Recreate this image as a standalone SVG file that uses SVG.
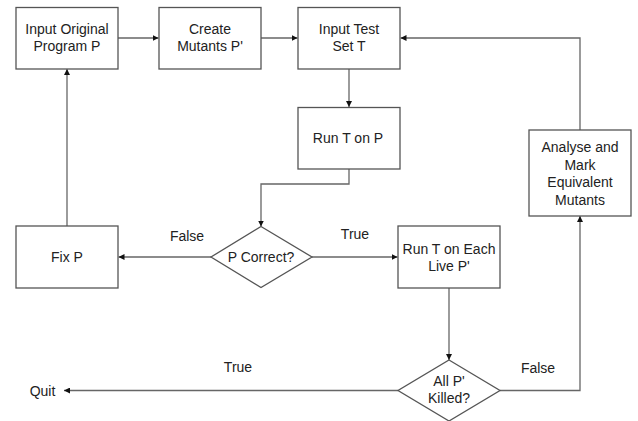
<svg xmlns="http://www.w3.org/2000/svg" width="638" height="421" viewBox="0 0 638 421">
<style>
.box{fill:#fff;stroke:#555;stroke-width:1.3}
.ln{fill:none;stroke:#666;stroke-width:1.3}
text{font-family:"Liberation Sans",Arial,sans-serif;font-size:14px;fill:#222;text-anchor:middle}
</style>
<defs>
<marker id="ah" viewBox="0 0 10 10" refX="10" refY="5" markerWidth="6" markerHeight="6" markerUnits="userSpaceOnUse" orient="auto">
<path d="M0,0 L10,5 L0,10 z" fill="#111"/>
</marker>
</defs>
<rect width="638" height="421" fill="#fff"/>
<g id="connectors">
<path class="ln" marker-end="url(#ah)" d="M118,38 H158.5"/>
<path class="ln" marker-end="url(#ah)" d="M261,38 H297.5"/>
<path class="ln" marker-end="url(#ah)" d="M349,69 V107"/>
<path class="ln" marker-end="url(#ah)" d="M349,169 V184 H261 V226.5"/>
<path class="ln" marker-end="url(#ah)" d="M211,257 H118.5"/>
<path class="ln" marker-end="url(#ah)" d="M67,226 V69"/>
<path class="ln" marker-end="url(#ah)" d="M312,257 H397.5"/>
<path class="ln" marker-end="url(#ah)" d="M449,288 V360"/>
<path class="ln" marker-end="url(#ah)" d="M398,390.5 H64"/>
<path class="ln" marker-end="url(#ah)" d="M500,390.5 H580 V216"/>
<path class="ln" marker-end="url(#ah)" d="M580,130 V38 H400.5"/>
<text x="187" y="241">False</text>
<text x="355" y="238.5">True</text>
<text x="238" y="371.5">True</text>
<text x="538" y="373">False</text>
</g>
<g id="n-input-program">
<rect class="box" x="16" y="7.5" width="102" height="61.5"/>
<text x="67" y="34">Input Original</text>
<text x="67" y="51">Program P</text>
</g>
<g id="n-create-mutants">
<rect class="box" x="159" y="7.5" width="102" height="61.5"/>
<text x="210" y="34">Create</text>
<text x="210" y="51">Mutants P'</text>
</g>
<g id="n-input-test">
<rect class="box" x="298" y="7.5" width="102" height="61.5"/>
<text x="349" y="34">Input Test</text>
<text x="349" y="51">Set T</text>
</g>
<g id="n-run-t-on-p">
<rect class="box" x="298" y="107.5" width="102" height="61.5"/>
<text x="348" y="143">Run T on P</text>
</g>
<g id="n-p-correct">
<polygon class="box" points="261,226.5 312,257 261,287.5 211,257"/>
<text x="261" y="262">P Correct?</text>
</g>
<g id="n-fix-p">
<rect class="box" x="16" y="226" width="102" height="62"/>
<text x="67" y="262">Fix P</text>
</g>
<g id="n-run-each">
<rect class="box" x="398" y="226" width="102" height="62"/>
<text x="449" y="253.5">Run T on Each</text>
<text x="449" y="270.5">Live P'</text>
</g>
<g id="n-all-killed">
<polygon class="box" points="449,360 500,390.5 449,421 398,390.5"/>
<text x="449" y="385.5">All P'</text>
<text x="449" y="403">Killed?</text>
</g>
<g id="n-analyse">
<rect class="box" x="529" y="130" width="102" height="86"/>
<text x="580" y="152">Analyse and</text>
<text x="580" y="169.5">Mark</text>
<text x="580" y="187">Equivalent</text>
<text x="580" y="204.5">Mutants</text>
</g>
<g id="n-quit">
<text x="42.5" y="395.5">Quit</text>
</g>
</svg>
